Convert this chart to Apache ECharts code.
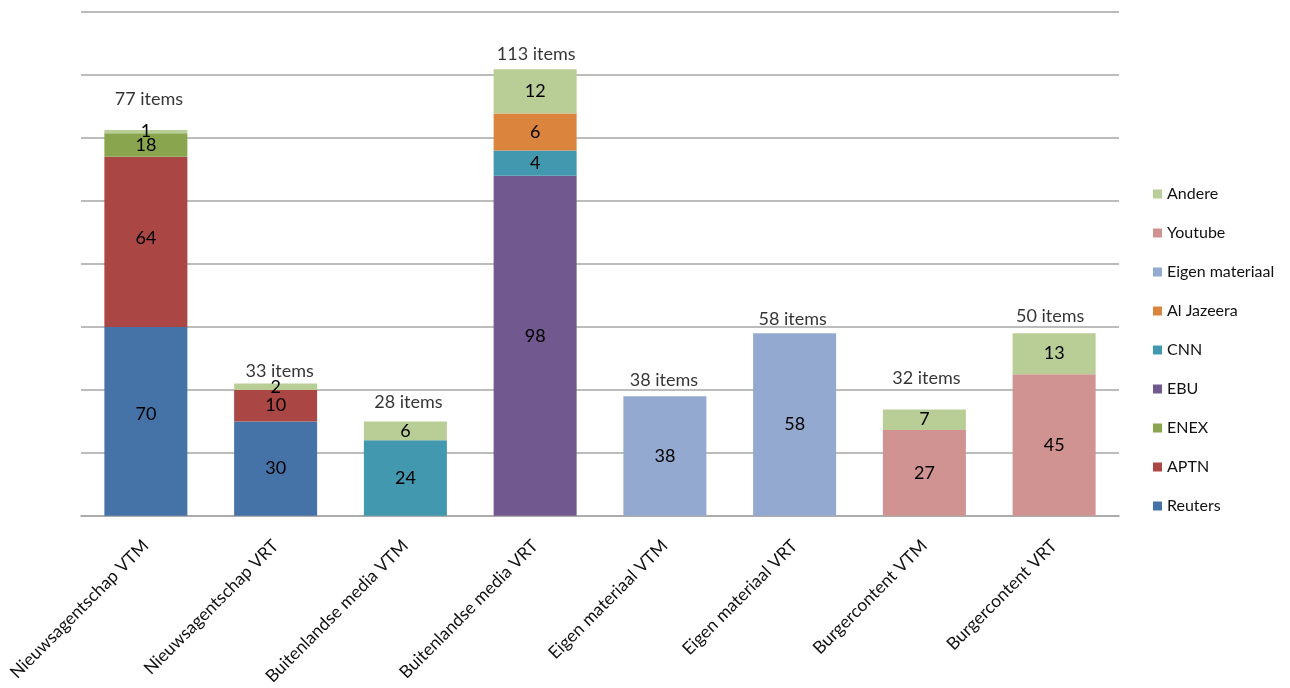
<!DOCTYPE html>
<html>
<head>
<meta charset="utf-8">
<script src="https://cdn.jsdelivr.net/npm/echarts@6/dist/echarts.min.js"></script>
<style>
  html, body { margin: 0; padding: 0; background: #fff; }
  #chart { width: 1290px; height: 688px; }
</style>
</head>
<body>
<div id="chart"></div>
<script>
const categories = [
  "Nieuwsagentschap VTM", "Nieuwsagentschap VRT", "Buitenlandse media VTM", "Buitenlandse media VRT",
  "Eigen materiaal VTM", "Eigen materiaal VRT", "Burgercontent VTM", "Burgercontent VRT"
];

// segment heights as they are drawn in the picture
const reuters   = [60, 30, null, null, null, null, null, null];
const aptn      = [54, 10, null, null, null, null, null, null];
const enex      = [7.5, null, null, null, null, null, null, null];
const ebu       = [null, null, null, 108, null, null, null, null];
const cnn       = [null, null, 24, 8, null, null, null, null];
const alJazeera = [null, null, null, 11.8, null, null, null, null];
const eigen     = [null, null, null, null, 38, 58, null, null];
const youtube   = [null, null, null, null, null, null, 27.3, 45];
const andere    = [1, 2, 6, 14, null, null, 6.5, 13];

// numbers printed inside the segments
const reutersText   = [70, 30];
const aptnText      = [64, 10];
const enexText      = [18];
const ebuText       = [null, null, null, 98];
const cnnText       = [null, null, 24, 4];
const alJazeeraText = [null, null, null, 6];
const eigenText     = [null, null, null, null, 38, 58];
const youtubeText   = [null, null, null, null, null, null, 27, 45];
const andereText    = [1, 2, 6, 12, null, null, 7, 13];

const itemCounts = [77, 33, 28, 113, 38, 58, 32, 50];

const yTicks = { min: 0, max: 160, interval: 20 };

// where the "N items" text sits relative to the bar top
const countShiftX = [3, 4, 3, 1, -1, -2, 2, -4];
const countLift = [31, 12, 19, 15, 16, 14, 31, 17];

const font = "Lato";

function stackSeries(name, values, texts, color, nudge) {
  return {
    name: name,
    type: "bar",
    stack: "total",
    barWidth: 83,
    data: values.map((v, i) => {
      if (nudge && nudge[i]) {
        return { value: v, label: { offset: [0, nudge[i]] } };
      }
      return v;
    }),
    itemStyle: { color: color },
    label: {
      show: true,
      position: "inside",
      color: "#000",
      fontSize: 18,
      fontFamily: font,
      formatter(p) {
        const t = texts[p.dataIndex];
        return t == null ? "" : String(t);
      },
    },
  };
}

const series = [
  stackSeries("Reuters", reuters, reutersText, "#4572A7", [-7]),
  stackSeries("APTN", aptn, aptnText, "#AA4643", [-4]),
  stackSeries("ENEX", enex, enexText, "#89A54E"),
  stackSeries("EBU", ebu, ebuText, "#71588F", [0, 0, 0, -10]),
  stackSeries("CNN", cnn, cnnText, "#4198AF"),
  stackSeries("Al Jazeera", alJazeera, alJazeeraText, "#DB843D"),
  stackSeries("Eigen materiaal", eigen, eigenText, "#93A9CF"),
  stackSeries("Youtube", youtube, youtubeText, "#D19392"),
  stackSeries("Andere", andere, andereText, "#B9CD96"),
];

const stackValues = [reuters, aptn, enex, ebu, cnn, alJazeera, eigen, youtube, andere];

// totals of the stacks, used to hang the "items" text above each bar
const totals = categories.map((c, i) =>
  stackValues.reduce((s, arr) => s + (arr[i] || 0), 0)
);

series.push({
  name: "items",
  type: "scatter",
  symbolSize: 0,
  silent: true,
  z: 10,
  data: totals.map((v, i) => ({
    value: v,
    label: { offset: [countShiftX[i], -countLift[i]] },
  })),
  label: {
    show: true,
    position: "inside",
    color: "#000",
    fontSize: 18,
    fontFamily: font,
    formatter(p) {
      return itemCounts[p.dataIndex] + " items";
    },
  },
});

const option = {
  animation: false,
  backgroundColor: "#fff",
  grid: { left: 81, right: 171, top: 12, bottom: 170 },
  legend: {
    orient: "vertical",
    left: 1148,
    top: 179,
    itemWidth: 9,
    itemHeight: 9,
    itemGap: 19,
    icon: "rect",
    data: series.slice(0, 9).map((s) => s.name).reverse(),
    textStyle: { fontSize: 16, fontFamily: font, color: "#111", lineHeight: 20 },
  },
  xAxis: {
    type: "category",
    data: categories,
    axisTick: { show: false },
    axisLine: { lineStyle: { color: "#a6a6a6", width: 1.5 } },
    axisLabel: {
      interval: 0,
      rotate: 45,
      margin: 27,
      fontSize: 17.5,
      fontFamily: font,
      color: "#111",
    },
  },
  yAxis: {
    type: "value",
    min: yTicks.min,
    max: yTicks.max,
    interval: yTicks.interval,
    axisLabel: { show: false },
    axisLine: { show: false },
    axisTick: { show: false },
    splitLine: { lineStyle: { color: "#a6a6a6", width: 1.5 } },
  },
  series: series,
};

const myChart = echarts.init(document.getElementById("chart"));
myChart.setOption(option);
</script>
</body>
</html>
